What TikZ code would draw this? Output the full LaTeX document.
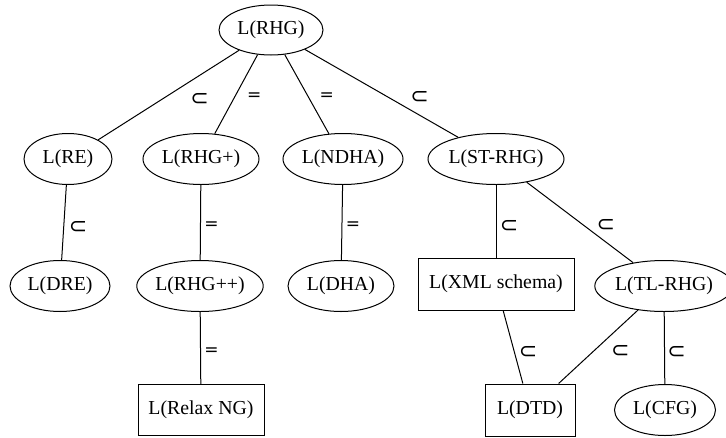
\documentclass[tikz,border=0pt]{standalone}
\usepackage{fontspec}
\setmainfont{Liberation Serif}
\newfontfamily\symfont{DejaVu Sans}
\usetikzlibrary{shapes.geometric}

\begin{document}
\begin{tikzpicture}[x=1pt, y=-1pt, line width=1pt,
  oval/.style={draw, ellipse, inner sep=0pt, minimum height=51pt, font=\fontsize{19.8}{24}\selectfont},
  box/.style={draw, rectangle, inner sep=0pt, minimum height=51pt, font=\fontsize{19.8}{24}\selectfont},
  rel/.style={font=\symfont\fontsize{17}{20}\selectfont, inner sep=0pt},
  sub/.style={font=\symfont\fontsize{22}{24}\selectfont, inner sep=0pt}]
  \useasboundingbox (0,0) rectangle (726,437);

  \node[oval, minimum width=104pt, minimum height=50pt] (rhg) at (271,30) {L(RHG)};

  \node[oval, minimum width=88pt] (re) at (68,159) {L(RE)};
  \node[oval, minimum width=116pt] (rhgp) at (201,159) {L(RHG+)};
  \node[oval, minimum width=120pt] (ndha) at (343,159) {L(NDHA)};
  \node[oval, minimum width=136pt] (strhg) at (496,159) {L(ST-RHG)};

  \node[oval, minimum width=100pt] (dre) at (60,286) {L(DRE)};
  \node[oval, minimum width=126pt] (rhgpp) at (200,286) {L(RHG++)};
  \node[oval, minimum width=106pt] (dha) at (341,286) {L(DHA)};
  \node[box, minimum width=156pt, minimum height=52pt] (xml) at (496,284) {L(XML schema)};
  \node[oval, minimum width=124pt] (tlrhg) at (664,286) {L(TL-RHG)};

  \node[box, minimum width=126pt] (relax) at (201,410) {L(Relax NG)};
  \node[box, minimum width=90pt, minimum height=52pt] (dtd) at (530,410) {L(DTD)};
  \node[oval, minimum width=101pt] (cfg) at (665,410) {L(CFG)};

  \draw (rhg) -- (re) node[sub, midway, xshift=31pt, yshift=-4pt] {⊂};
  \draw (rhg) -- (rhgp) node[rel, midway, xshift=18pt, yshift=-2pt] {=};
  \draw (rhg) -- (ndha) node[rel, midway, xshift=20pt, yshift=-2pt] {=};
  \draw (rhg) -- (strhg) node[sub, midway, xshift=38pt, yshift=-4pt] {⊂};

  \draw (re) -- (dre) node[sub, midway, xshift=14pt, yshift=-5pt] {⊂};
  \draw (rhgp) -- (rhgpp) node[rel, midway, xshift=11pt, yshift=-3pt] {=};
  \draw (ndha) -- (dha) node[rel, midway, xshift=11pt, yshift=-3pt] {=};
  \draw (strhg) -- (xml) node[sub, midway, xshift=13pt, yshift=-5pt] {⊂};
  \draw (strhg) -- (tlrhg) node[sub, midway, xshift=26pt, yshift=-3pt] {⊂};

  \draw (rhgpp) -- (relax) node[rel, midway, xshift=11pt, yshift=-4pt] {=};
  \draw (xml) -- (dtd) node[sub, midway, xshift=15pt, yshift=-5pt] {⊂};
  \draw (tlrhg) -- (dtd) node[sub, midway, xshift=22pt, yshift=-5pt] {⊂};
  \draw (tlrhg) -- (cfg) node[sub, midway, xshift=12pt, yshift=-4pt] {⊂};
\end{tikzpicture}
\end{document}
